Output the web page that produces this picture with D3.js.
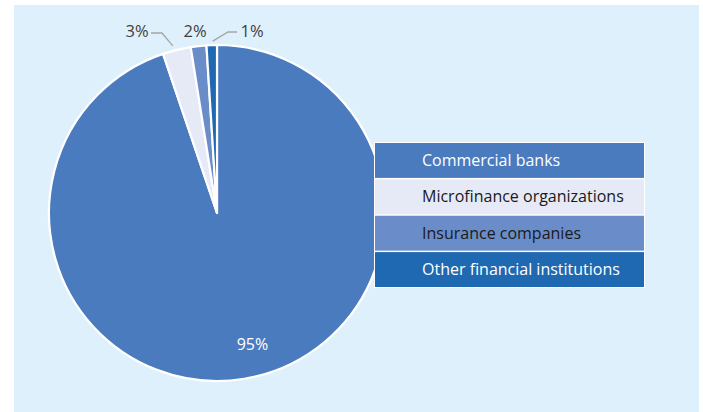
<!DOCTYPE html>
<html><head><meta charset="utf-8">
<script src="https://cdn.jsdelivr.net/npm/d3@7"></script>
<style>body{margin:0;background:#fff;}svg{display:block;font-family:"Open Sans",sans-serif;}</style>
</head><body>
<svg id="chart" width="703" height="412"></svg>
<script>
const categories = ["Commercial banks","Microfinance organizations","Insurance companies","Other financial institutions"];
const shares = [94.8, 2.7, 1.5, 1.0];
const labels = ["95%","3%","2%","1%"];
const colors = ["#4a7bbf","#e6e9f6","#6a8dca","#1f69b3"];
const textColors = ["#ffffff","#1a1a1a","#1a1a1a","#ffffff"];

const svg = d3.select("#chart");
svg.append("rect").attr("x",14).attr("y",5).attr("width",685).attr("height",407).attr("fill","#dff0fd");

const cx = 217, cy = 213, R = 168;
const g = svg.append("g").attr("transform",`translate(${cx},${cy})`);
const data = categories.map((c,i)=>({cat:c,value:shares[i],label:labels[i],color:colors[i]}));
const pie = d3.pie().value(d=>d.value).sort(null);
const arcs = pie(data);
const arc = d3.arc().innerRadius(0).outerRadius(R);
g.selectAll("path.slice").data(arcs).join("path").attr("class","slice")
  .attr("d",arc).attr("fill",d=>d.data.color).attr("stroke","#fff").attr("stroke-width",2.2).attr("stroke-linejoin","round");

// inside label for big slice
const inArc = d3.arc().innerRadius(136).outerRadius(136);
const a0 = arcs[0];
const c0 = inArc.centroid({startAngle:a0.startAngle+0.3, endAngle:a0.endAngle-0.5});
g.append("text").attr("x",c0[0]).attr("y",c0[1]).attr("text-anchor","middle").attr("dy","0.35em")
  .attr("fill","#fff").attr("font-size",16).text(a0.data.label);

// outside labels
const outer = d3.arc().innerRadius(R).outerRadius(R);
const labelPos = {1:[-80,-182], 2:[-22,-182], 3:[35,-182]};
[1,2,3].forEach(i=>{
  const a = arcs[i];
  const p = outer.centroid(a);
  const [lx,ly] = labelPos[i];
  g.append("text").attr("x",lx).attr("y",ly).attr("text-anchor","middle").attr("dy","0.35em")
    .attr("fill","#404040").attr("font-size",16.5).text(a.data.label);
  if(i===1){
    g.append("polyline").attr("points",`${lx+14},${ly+2} ${lx+25},${ly+2} ${p[0]-4},${p[1]-4}`)
      .attr("fill","none").attr("stroke","#a5a5a5").attr("stroke-width",1.3);
  }
  if(i===3){
    g.append("polyline").attr("points",`${lx-15},${ly+1} ${lx-24},${ly+1} ${p[0]+1},${p[1]-4}`)
      .attr("fill","none").attr("stroke","#a5a5a5").attr("stroke-width",1.3);
  }
});

// legend
const y = d3.scaleBand().domain(categories).range([143,287]).paddingInner(0.04);
const lg = svg.append("g");
lg.append("rect").attr("x",374).attr("y",142).attr("width",271).attr("height",146).attr("fill","#fff");
lg.selectAll("rect.row").data(data).join("rect").attr("class","row")
  .attr("x",375).attr("y",d=>y(d.cat)).attr("width",269).attr("height",y.bandwidth()).attr("fill",d=>d.color);
lg.selectAll("text.row").data(data).join("text").attr("class","row")
  .attr("x",422).attr("y",d=>y(d.cat)+y.bandwidth()/2).attr("dy","0.35em")
  .attr("font-size",16).attr("fill",(d,i)=>textColors[i]).text(d=>d.cat);
</script>
</body></html>
